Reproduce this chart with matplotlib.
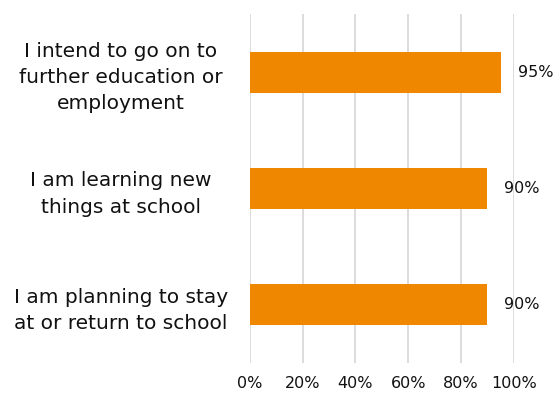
import matplotlib.pyplot as plt

categories = [
    "I intend to go on to\nfurther education or\nemployment",
    "I am learning new\nthings at school",
    "I am planning to stay\nat or return to school",
]
values = [95, 90, 90]
ticks = [0, 20, 40, 60, 80, 100]
tick_labels = ["0%", "20%", "40%", "60%", "80%", "100%"]

bar_color = "#F08700"
grid_color = "#D9D9D9"

fig = plt.figure(figsize=(5.55, 3.94), dpi=100)
ax = fig.add_axes([250 / 555, 1 - 363 / 394, (513.7 - 250) / 555, (363 - 14) / 394])

ypos = list(range(len(categories)))
ax.barh(ypos, values, height=0.35, color=bar_color, zorder=3)
for y, v in zip(ypos, values):
    ax.text(v + 6.5, y, f"{v}%", va="center", ha="left", fontsize=11.5,
            color="#111111")

ax.set_xlim(0, 100)
ax.set_ylim(len(categories) - 0.5, -0.5)
ax.set_xticks(ticks)
ax.set_xticklabels(tick_labels, fontsize=11.5, color="#111111")
ax.set_yticks(ypos)
ax.set_yticklabels(categories, fontsize=14.5, color="#111111", ha="center",
                   linespacing=1.47)
# centre the multi-line category labels at about x = 121 px
ax.tick_params(axis="y", length=0, pad=93)
ax.tick_params(axis="x", length=0, pad=9)
ax.grid(axis="x", color=grid_color, linewidth=1.3, zorder=0)
for s in ax.spines.values():
    s.set_visible(False)

fig.savefig("out.png", dpi=100)
